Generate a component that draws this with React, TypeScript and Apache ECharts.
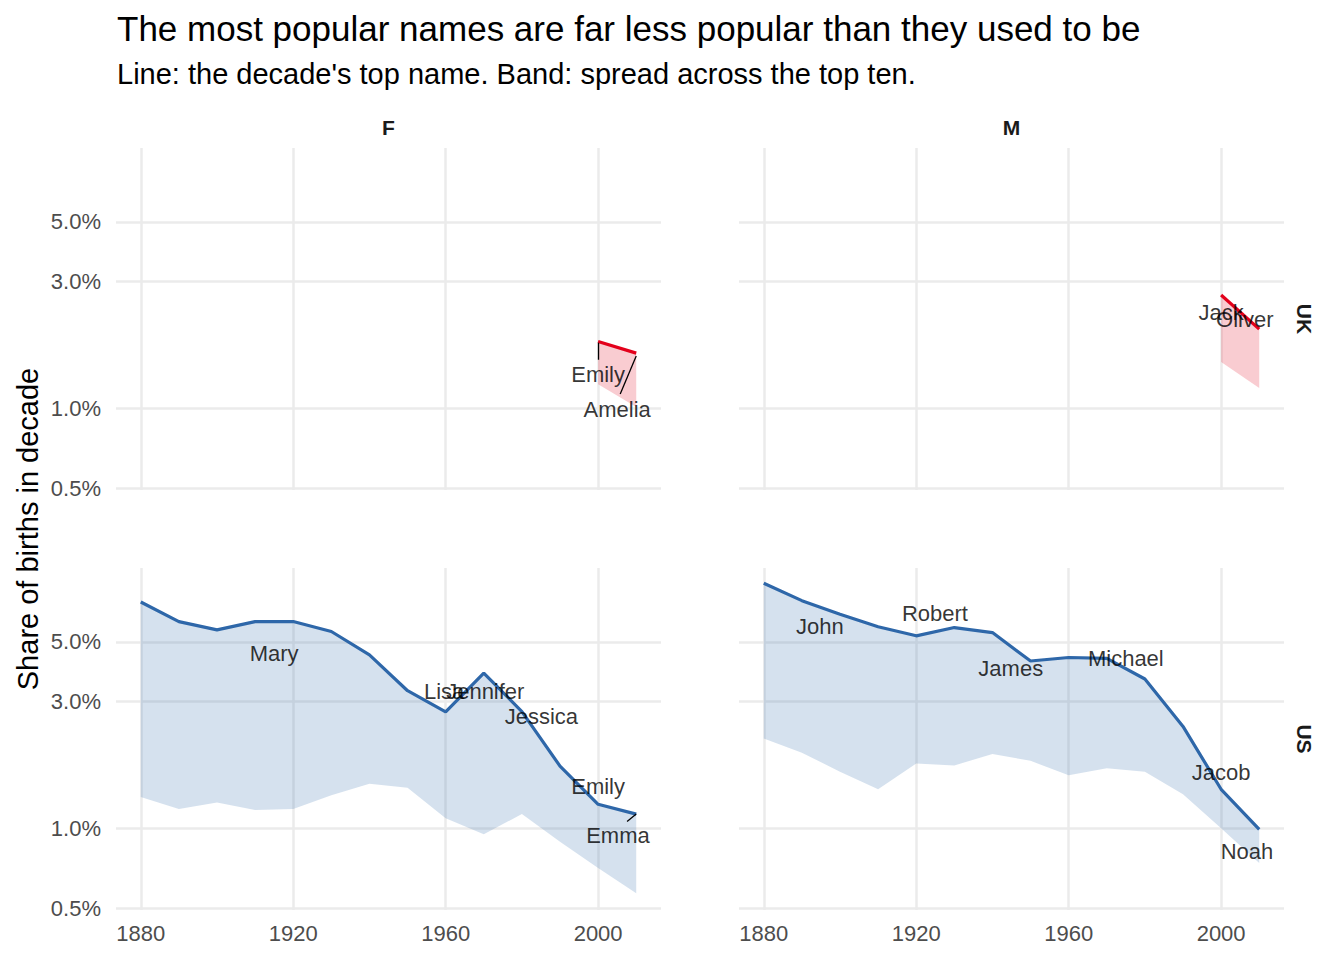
import React, { useEffect, useRef } from 'react'
import * as echarts from 'echarts'

// decades shown on the x axis
const decades = [1880, 1890, 1900, 1910, 1920, 1930, 1940, 1950, 1960, 1970, 1980, 1990, 2000, 2010]
const ukDecades = [2000, 2010]

// share of births (%) of the decade's top name, and of the 10th name
const usFemaleTop = [7.06, 5.96, 5.55, 5.96, 5.96, 5.47, 4.47, 3.28, 2.73, 3.82, 2.74, 1.71, 1.23, 1.13]
const usFemaleLow = [1.31, 1.18, 1.25, 1.17, 1.18, 1.33, 1.47, 1.42, 1.09, 0.95, 1.13, 0.89, 0.71, 0.57]
const usMaleTop = [8.3, 7.14, 6.35, 5.7, 5.27, 5.66, 5.42, 4.24, 4.37, 4.34, 3.63, 2.41, 1.4, 0.99]
const usMaleLow = [2.17, 1.92, 1.63, 1.4, 1.75, 1.72, 1.9, 1.79, 1.58, 1.68, 1.63, 1.34, 1.0, 0.74]
const ukFemaleTop = [1.78, 1.61]
const ukFemaleLow = [1.23, 1.01]
const ukMaleTop = [2.66, 1.98]
const ukMaleLow = [1.49, 1.19]

// name labels: [year, share, name]
const ukFemaleNames: [number, number, string][] = [[2000, 1.34, 'Emily'], [2005, 0.99, 'Amelia']]
const ukMaleNames: [number, number, string][] = [[2000, 2.28, 'Jack'], [2006.2, 2.15, 'Oliver']]
const usFemaleNames: [number, number, string][] = [
  [1915, 4.51, 'Mary'], [1959.6, 3.25, 'Lisa'], [1970.4, 3.25, 'Jennifer'],
  [1985.1, 2.62, 'Jessica'], [2000, 1.43, 'Emily'], [2005.2, 0.94, 'Emma'],
]
const usMaleNames: [number, number, string][] = [
  [1894.7, 5.69, 'John'], [1924.9, 6.37, 'Robert'], [1944.8, 3.96, 'James'],
  [1975, 4.32, 'Michael'], [2000, 1.62, 'Jacob'], [2006.8, 0.82, 'Noah'],
]

// label leader segments: [[x1, y1], [x2, y2]]
const ukFemaleLeaders = [[[2000, 1.76], [2000, 1.52]], [[2010, 1.57], [2005.8, 1.13]]]
const usFemaleLeaders = [[[2010, 1.13], [2007.6, 1.06]]]

const xTicks = [1880, 1920, 1960, 2000]
const yTicks = [0.5, 1, 3, 5]

const BLUE = '#2e67a9'
const RED = '#e3001b'
const FONT = '"Liberation Sans", Arial, Helvetica, sans-serif'

const panels = [
  { years: ukDecades, top: ukFemaleTop, low: ukFemaleLow, color: RED, names: ukFemaleNames, leaders: ukFemaleLeaders },
  { years: ukDecades, top: ukMaleTop, low: ukMaleLow, color: RED, names: ukMaleNames, leaders: [] },
  { years: decades, top: usFemaleTop, low: usFemaleLow, color: BLUE, names: usFemaleNames, leaders: usFemaleLeaders },
  { years: decades, top: usMaleTop, low: usMaleLow, color: BLUE, names: usMaleNames, leaders: [] },
]

const gridBoxes = [
  { left: 116, top: 148 },
  { left: 739, top: 148 },
  { left: 116, top: 568 },
  { left: 739, top: 568 },
]

const App: React.FC = () => {
  const chartRef = useRef<HTMLDivElement>(null)

  useEffect(() => {
    document.body.style.margin = '0'
    if (!chartRef.current) return
    const chart = echarts.init(chartRef.current, null, { renderer: 'svg' })

    const series: any[] = []
    panels.forEach((p, i) => {
      // band between the 10th name and the top name
      series.push({
        type: 'custom',
        xAxisIndex: i,
        yAxisIndex: i,
        data: p.years.map((y, k) => [y, p.low[k], p.top[k]]),
        encode: { x: 0, y: [1, 2] },
        silent: true,
        z: 1,
        renderItem: (params: any, api: any) => {
          if (params.dataIndex !== 0) return null
          const lower = p.years.map((y, k) => api.coord([y, p.low[k]]))
          const upper = p.years.map((y, k) => api.coord([y, p.top[k]])).reverse()
          return {
            type: 'polygon',
            shape: { points: [...lower, ...upper] },
            style: { fill: p.color, opacity: 0.2 },
          }
        },
      })
      series.push({
        type: 'line',
        xAxisIndex: i,
        yAxisIndex: i,
        data: p.years.map((y, k) => [y, p.top[k]]),
        symbol: 'none',
        lineStyle: { color: p.color, width: 3.2 },
        silent: true,
        z: 2,
      })
      if (p.leaders.length) {
        series.push({
          type: 'lines',
          coordinateSystem: 'cartesian2d',
          xAxisIndex: i,
          yAxisIndex: i,
          data: p.leaders.map((c) => ({ coords: c })),
          lineStyle: { color: '#000', width: 1.3, opacity: 1 },
          silent: true,
          z: 3,
        })
      }
      series.push({
        type: 'scatter',
        xAxisIndex: i,
        yAxisIndex: i,
        data: p.names.map((n) => ({ name: n[2], value: [n[0], n[1]] })),
        symbolSize: 1,
        itemStyle: { color: 'rgba(0,0,0,0)' },
        label: {
          show: true,
          position: 'inside',
          formatter: '{b}',
          color: '#000',
          fontSize: 22,
          fontFamily: FONT,
        },
        silent: true,
        z: 10,
      })
    })

    const option = {
      animation: false,
      backgroundColor: '#fff',
      title: {
        text: 'The most popular names are far less popular than they used to be',
        subtext: "Line: the decade's top name. Band: spread across the top ten.",
        left: 117,
        top: 11,
        padding: 0,
        itemGap: 13,
        textStyle: { fontSize: 35, fontWeight: 'normal', color: '#000', fontFamily: FONT },
        subtextStyle: { fontSize: 29, color: '#000', fontFamily: FONT },
      },
      grid: gridBoxes.map((g) => ({
        left: g.left,
        top: g.top,
        width: 545,
        height: 342,
        containLabel: false,
        outerBoundsMode: 'none',
      })),
      xAxis: gridBoxes.map((_, i) => ({
        type: 'value',
        gridIndex: i,
        min: 1873.5,
        max: 2016.5,
        axisLine: { show: false },
        axisTick: { show: false, customValues: xTicks },
        axisLabel: {
          show: i >= 2,
          customValues: xTicks,
          formatter: (v: number) => String(Math.round(v)),
          fontSize: 22,
          color: '#4d4d4d',
          fontFamily: FONT,
          margin: 12,
        },
        splitLine: { show: true, lineStyle: { color: '#ebebeb', width: 2.5 } },
      })),
      yAxis: gridBoxes.map((_, i) => ({
        type: 'log',
        logBase: 10,
        gridIndex: i,
        min: 0.4935,
        max: 9.467,
        axisLine: { show: false },
        axisTick: { show: false, customValues: yTicks },
        axisLabel: {
          show: i % 2 === 0,
          customValues: yTicks,
          formatter: (v: number) => v.toFixed(1) + '%',
          fontSize: 22,
          color: '#4d4d4d',
          fontFamily: FONT,
          margin: 15,
        },
        splitLine: { show: true, lineStyle: { color: '#ebebeb', width: 2.5 } },
      })),
      graphic: [
        {
          type: 'text',
          x: 388.5,
          y: 127.5,
          style: { text: 'F', fontSize: 21, fontWeight: 'bold', fontFamily: FONT, fill: '#1a1a1a', align: 'center', verticalAlign: 'middle' },
        },
        {
          type: 'text',
          x: 1011.5,
          y: 127.5,
          style: { text: 'M', fontSize: 21, fontWeight: 'bold', fontFamily: FONT, fill: '#1a1a1a', align: 'center', verticalAlign: 'middle' },
        },
        {
          type: 'text',
          x: 1304,
          y: 319,
          rotation: -Math.PI / 2,
          style: { text: 'UK', fontSize: 21, fontWeight: 'bold', fontFamily: FONT, fill: '#1a1a1a', align: 'center', verticalAlign: 'middle' },
        },
        {
          type: 'text',
          x: 1304,
          y: 739,
          rotation: -Math.PI / 2,
          style: { text: 'US', fontSize: 21, fontWeight: 'bold', fontFamily: FONT, fill: '#1a1a1a', align: 'center', verticalAlign: 'middle' },
        },
        {
          type: 'text',
          x: 28,
          y: 529,
          rotation: Math.PI / 2,
          style: { text: 'Share of births in decade', fontSize: 29, fontFamily: FONT, fill: '#000', align: 'center', verticalAlign: 'middle' },
        },
      ],
      series,
    }

    chart.setOption(option)

    return () => {
      chart.dispose()
    }
  }, [])

  return <div ref={chartRef} style={{ width: 1344, height: 960 }} />
}

export default App
